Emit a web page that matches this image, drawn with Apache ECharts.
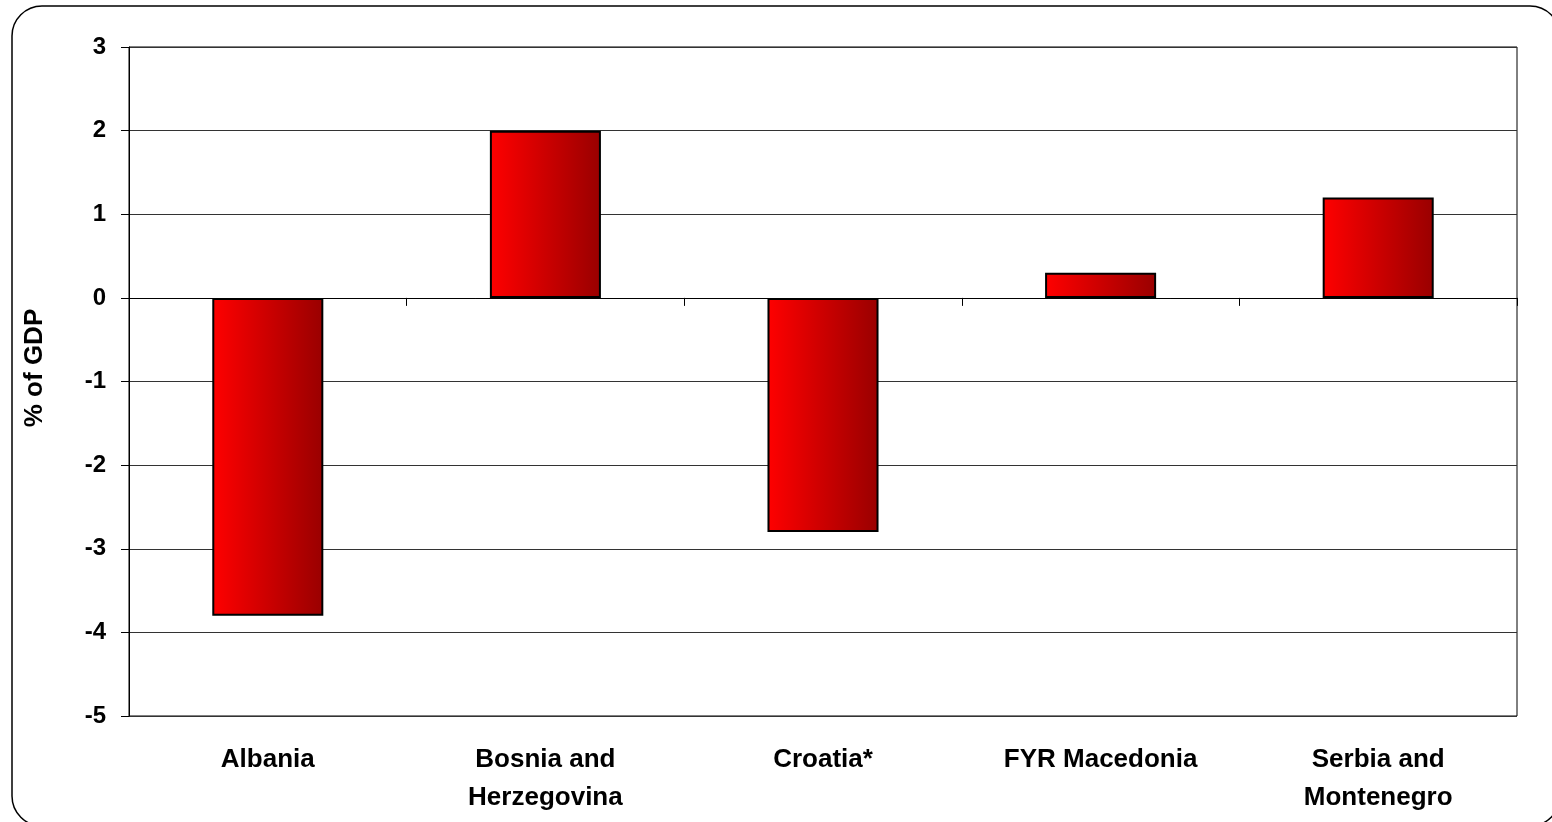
<!DOCTYPE html>
<html>
<head>
<meta charset="utf-8">
<script src="https://cdn.jsdelivr.net/npm/echarts@6/dist/echarts.min.js"></script>
<style>
  html, body { margin: 0; padding: 0; background: #fff; }
  #chart { width: 1552px; height: 822px; }
</style>
</head>
<body>
<div id="chart"></div>
<script>
// Fiscal balance by country, % of GDP
const categories = ['Albania', 'Bosnia and\nHerzegovina', 'Croatia*', 'FYR Macedonia', 'Serbia and\nMontenegro'];
const values = [-3.8, 2.0, -2.8, 0.3, 1.2];
const yTicks = { min: -5, max: 3, interval: 1 };

const chart = echarts.init(document.getElementById('chart'));
const font = '"Liberation Sans", Arial, sans-serif';

chart.setOption({
  animation: false,
  backgroundColor: '#fff',
  grid: {
    left: 129, right: 35, top: 47, bottom: 106,
    show: true, borderColor: '#000', borderWidth: 1
  },
  graphic: [
    {
      type: 'rect',
      shape: { x: 12, y: 6, width: 1548, height: 820, r: 30 },
      style: { fill: 'none', stroke: '#000', lineWidth: 1.5 },
      silent: true, z: -1
    },
    {
      type: 'text',
      x: 35, y: 368,
      rotation: Math.PI / 2,
      style: {
        text: '% of GDP',
        font: 'bold 26px ' + font,
        fill: '#000',
        textAlign: 'center',
        textVerticalAlign: 'middle'
      }
    }
  ],
  xAxis: [
    {
      type: 'category',
      data: categories,
      position: 'bottom',
      axisLine: { show: false, onZero: false },
      axisTick: { show: false },
      axisLabel: {
        interval: 0,
        margin: 25,
        color: '#000',
        fontFamily: font,
        fontWeight: 'bold',
        fontSize: 26,
        lineHeight: 38
      }
    },
    {
      type: 'category',
      data: categories,
      position: 'bottom',
      axisLine: { show: true, onZero: true, lineStyle: { color: '#000', width: 1 } },
      axisTick: { show: true, length: 8, lineStyle: { color: '#000' } },
      axisLabel: { show: false }
    }
  ],
  yAxis: {
    type: 'value',
    min: yTicks.min, max: yTicks.max, interval: yTicks.interval,
    axisLine: { show: true, lineStyle: { color: '#000', width: 1 } },
    axisTick: { show: true, length: 8, lineStyle: { color: '#000' } },
    splitLine: { show: true, lineStyle: { color: '#333', width: 1 } },
    axisLabel: {
      margin: 23,
      color: '#000',
      fontFamily: font,
      fontWeight: 'bold',
      fontSize: 24
    }
  },
  series: [{
    type: 'bar',
    xAxisIndex: 0,
    data: values,
    barWidth: '40%',
    itemStyle: {
      color: new echarts.graphic.LinearGradient(0, 0, 1, 0, [
        { offset: 0, color: '#ff0000' },
        { offset: 1, color: '#990000' }
      ]),
      borderColor: '#000',
      borderWidth: 2
    },
    z: 3
  }]
});
</script>
</body>
</html>
